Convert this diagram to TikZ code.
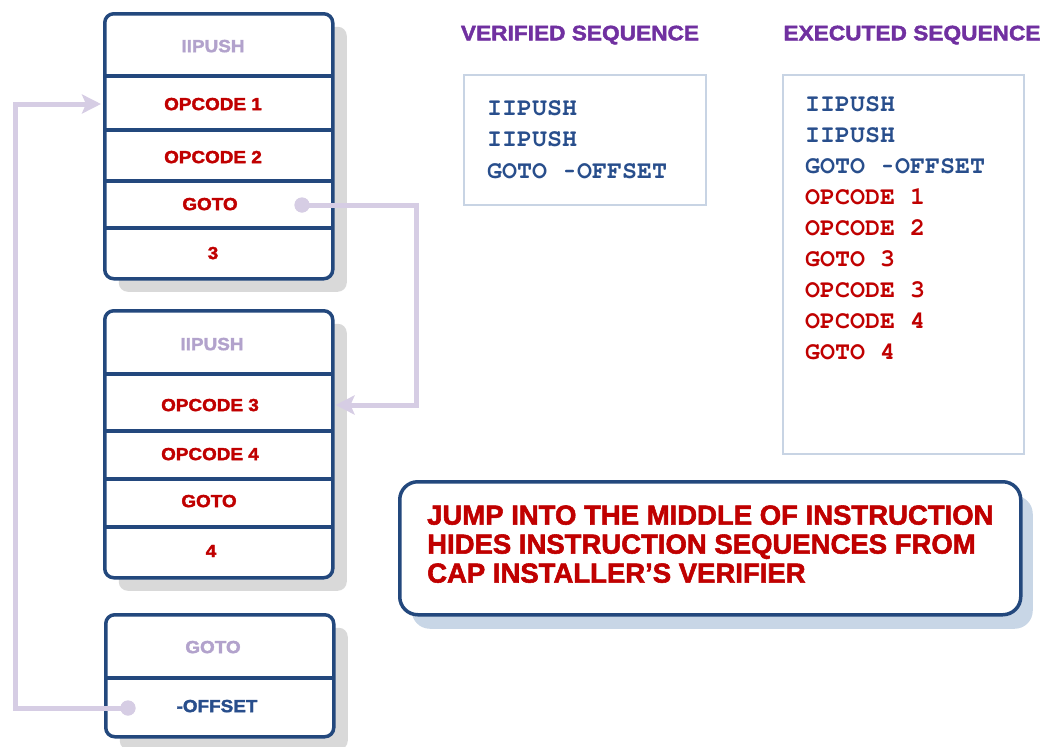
\documentclass[tikz,border=0pt]{standalone}
\usepackage{fontspec}
\setmainfont{Liberation Sans}
\newfontfamily\widef[FakeStretch=1.08]{Liberation Sans}[BoldFeatures={FakeBold=2}]
\newfontfamily\heavyf{Liberation Sans}[BoldFeatures={FakeBold=2}]
\newfontfamily\monof{TeX Gyre Cursor}
\newcommand\mhyph{\makebox[0.6em]{\scalebox{0.7}[1]{-}}}
\usetikzlibrary{arrows.meta,shadows}
\definecolor{dblue}{RGB}{35,72,125}
\definecolor{cred}{RGB}{192,0,0}
\definecolor{lpurple}{RGB}{178,162,204}
\definecolor{cpurple}{RGB}{214,205,228}
\definecolor{tpurple}{RGB}{112,48,160}
\definecolor{mblue}{RGB}{40,78,140}
\definecolor{sborder}{RGB}{200,212,228}
\definecolor{shgray}{RGB}{217,217,217}
\definecolor{shblue}{RGB}{200,214,230}
\begin{document}
\begin{tikzpicture}[x=1pt,y=-1pt,
  cell/.style={draw=dblue,line width=3.5pt,rounded corners=9pt,fill=white,anchor=north west,inner sep=0pt,
    drop shadow={shadow xshift=14pt,shadow yshift=-13pt,fill=shgray,opacity=1}},
  div/.style={draw=dblue,line width=3.2pt},
  lbl/.style={font=\widef\bfseries\fontsize{17.5}{20}\selectfont,text=cred,inner sep=0pt,text depth=0pt},
  conn/.style={draw=cpurple,line width=5pt},
  tip/.style={-{Stealth[length=19pt,width=19pt,inset=4pt]}},
  dot/.style={circle,fill=cpurple,minimum size=15pt,inner sep=0pt},
  seqbox/.style={draw=sborder,line width=1.6pt,fill=white,anchor=north west,inner sep=0pt},
  monol/.style={font=\monof\bfseries\fontsize{25}{30}\selectfont,anchor=west,inner sep=0pt,text=mblue,text depth=0pt},
  ttl/.style={font=\widef\bfseries\fontsize{21}{24}\selectfont,text=tpurple,inner sep=0pt,text depth=0pt},
  callout/.style={draw=dblue,line width=3.5pt,rounded corners=18pt,fill=white,anchor=north west,inner sep=0pt,
    drop shadow={shadow xshift=12pt,shadow yshift=-14pt,fill=shblue,opacity=1}},
  ctext/.style={font=\heavyf\bfseries\fontsize{27.5}{30}\selectfont,text=cred,anchor=west,inner sep=0pt,text depth=0pt}
]
\useasboundingbox (0,0) rectangle (1047,747);

% ---- box 1
\node[cell,minimum width=228pt,minimum height=265pt] (b1) at (103,12) {};
\draw[div] (103,76) -- (331,76);
\draw[div] (103,130) -- (331,130);
\draw[div] (103,181) -- (331,181);
\draw[div] (103,228) -- (331,228);
\node[lbl,text=lpurple] (b1c1) at (213,46) {IIPUSH};
\node[lbl] (b1c2) at (213,104) {OPCODE 1};
\node[lbl] (b1c3) at (213,157) {OPCODE 2};
\node[lbl] (b1c4) at (210,204) {GOTO};
\node[lbl] (b1c5) at (213,253) {3};

% ---- box 2
\node[cell,minimum width=228pt,minimum height=267pt] (b2) at (103,309) {};
\draw[div] (103,374) -- (331,374);
\draw[div] (103,431) -- (331,431);
\draw[div] (103,479) -- (331,479);
\draw[div] (103,527) -- (331,527);
\node[lbl,text=lpurple] (b2c1) at (212,344) {IIPUSH};
\node[lbl] (b2c2) at (210,405) {OPCODE 3};
\node[lbl] (b2c3) at (210,454) {OPCODE 4};
\node[lbl] (b2c4) at (209,501) {GOTO};
\node[lbl] (b2c5) at (211,551) {4};

% ---- box 3
\node[cell,minimum width=228pt,minimum height=122pt] (b3) at (104,613) {};
\draw[div] (104,678) -- (332,678);
\node[lbl,text=lpurple] (b3c1) at (213,647) {GOTO};
\node[lbl,text=mblue] (b3c2) at (217,706) {-OFFSET};

% ---- connectors
\coordinate (k1) at (15,0);
\coordinate (k2) at (416,0);
\node[dot] (d1) at (128,708) {};
\node[dot] (d2) at (302,205) {};
\draw[conn,tip] (d1.center) -| (k1 |- b1c2) -- ([xshift=-2pt]b1.west |- b1c2);
\draw[conn,tip] (d2.center) -| (k2 |- b2c2) -- ([xshift=1pt]b2.east |- b2c2);
\node[dot] at (d1) {};
\node[dot] at (d2) {};

% ---- titles
\node[ttl] (t1) at (580,33) {VERIFIED SEQUENCE};
\node[ttl] (t2) at (912,33) {EXECUTED SEQUENCE};

% ---- verified sequence
\node[seqbox,minimum width=242pt,minimum height=130pt] (vs) at (463,74) {};
\node[monol] (v1) at (487,108) {IIPUSH};
\node[monol] (v2) at (487,139) {IIPUSH};
\node[monol] (v3) at (487,171) {GOTO \mhyph OFFSET};

% ---- executed sequence
\node[seqbox,minimum width=241pt,minimum height=379pt] (es) at (782,74) {};
\node[monol] (e1) at (805,104) {IIPUSH};
\node[monol] (e2) at (805,135) {IIPUSH};
\node[monol] (e3) at (805,166) {GOTO \mhyph OFFSET};
\node[monol,text=cred] (e4) at (805,197) {OPCODE 1};
\node[monol,text=cred] (e5) at (805,228) {OPCODE 2};
\node[monol,text=cred] (e6) at (805,259) {GOTO 3};
\node[monol,text=cred] (e7) at (805,290) {OPCODE 3};
\node[monol,text=cred] (e8) at (805,321) {OPCODE 4};
\node[monol,text=cred] (e9) at (805,352) {GOTO 4};

% ---- callout
\node[callout,minimum width=621pt,minimum height=133pt] (cb) at (398,480) {};
\node[ctext] (c1) at (427,515) {JUMP INTO THE MIDDLE OF INSTRUCTION};
\node[ctext] (c2) at (427,544) {HIDES INSTRUCTION SEQUENCES FROM};
\node[ctext] (c3) at (427,573) {CAP INSTALLER’S VERIFIER};
\end{tikzpicture}
\end{document}
